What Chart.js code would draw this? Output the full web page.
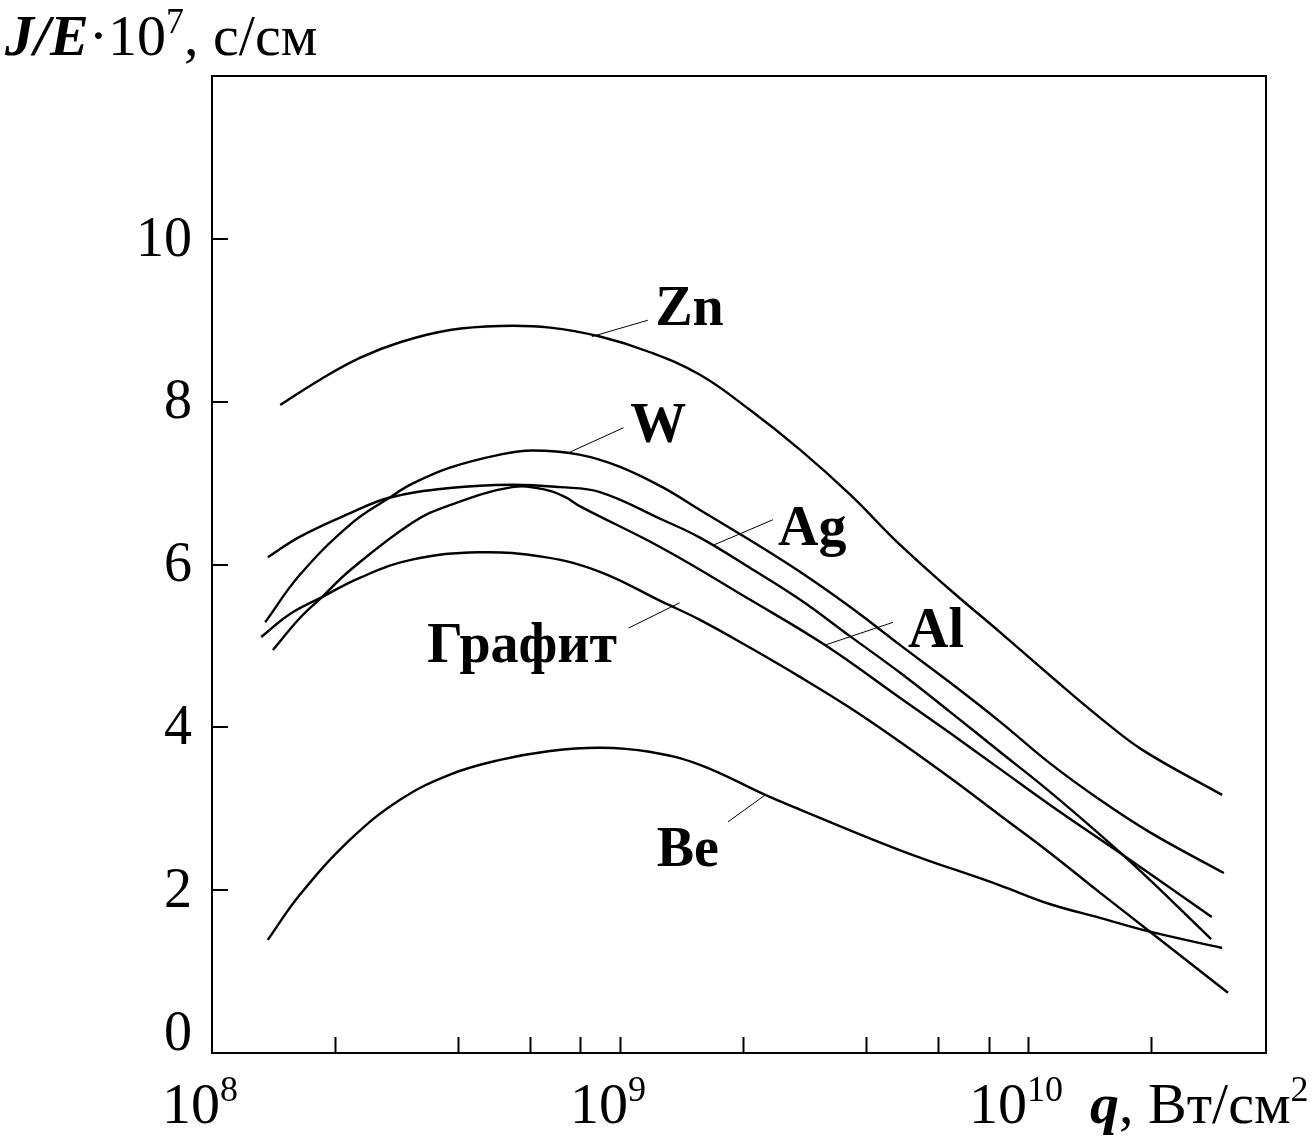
<!DOCTYPE html>
<html><head><meta charset="utf-8">
<script src="https://cdn.jsdelivr.net/npm/chart.js@4/dist/chart.umd.min.js"></script>
<style>html,body{margin:0;padding:0;background:#fff}#wrap{width:1312px;height:1138px;position:relative}</style>
</head><body><div id="wrap"><canvas id="c"></canvas></div>
<script>
// ---- data (q in W/cm^2, J/E·1e7 in s/cm) ----
const qZn=[1.47e8,1.84e8,2.31e8,2.89e8,3.83e8,5.08e8,6.74e8,8.93e8,1.18e9,1.57e9,2.08e9,2.76e9,3.66e9,4.86e9,6.44e9,8.53e9,1.13e10,1.50e10,1.91e10,2.99e10];
const jZn=[7.96,8.27,8.54,8.73,8.88,8.93,8.91,8.80,8.61,8.33,7.90,7.41,6.86,6.24,5.69,5.17,4.64,4.12,3.72,3.17];
const qW=[1.35e8,1.64e8,2.18e8,2.72e8,3.09e8,3.83e8,5.08e8,6.09e8,7.94e8,1.00e9,1.27e9,1.57e9,2.08e9,2.76e9,3.66e9,4.86e9,6.44e9,8.53e9,1.13e10,1.50e10,1.99e10,3.02e10];
const jW=[5.29,5.87,6.49,6.82,6.99,7.19,7.35,7.40,7.35,7.20,6.95,6.67,6.30,5.91,5.48,5.01,4.55,4.07,3.56,3.11,2.71,2.21];
const qAg=[1.37e8,1.64e8,2.18e8,2.72e8,3.83e8,5.44e8,7.13e8,8.93e8,1.27e9,1.57e9,2.08e9,2.76e9,3.66e9,4.86e9,6.44e9,8.53e9,1.13e10,1.78e10,2.81e10];
const jAg=[6.09,6.34,6.63,6.82,6.94,6.98,6.95,6.89,6.55,6.33,5.96,5.57,5.12,4.67,4.19,3.70,3.21,2.35,1.40];
const qAl=[1.41e8,1.64e8,1.86e8,2.18e8,3.09e8,3.83e8,5.44e8,6.55e8,7.33e8,7.94e8,1.27e9,2.08e9,3.18e9,4.86e9,6.44e9,8.53e9,1.13e10,1.78e10,2.82e10];
const jAl=[4.95,5.34,5.60,5.93,6.51,6.73,6.95,6.92,6.83,6.72,6.20,5.57,5.01,4.36,3.93,3.49,3.05,2.37,1.67];
const qGr=[1.32e8,1.55e8,1.86e8,2.31e8,3.09e8,4.51e8,6.55e8,8.93e8,1.27e9,1.57e9,2.08e9,2.76e9,3.66e9,4.86e9,6.44e9,8.53e9,1.13e10,1.50e10,1.99e10,3.09e10];
const jGr=[5.11,5.39,5.60,5.84,6.06,6.15,6.09,5.91,5.54,5.32,4.98,4.62,4.24,3.82,3.38,2.92,2.46,1.97,1.49,0.74];
const qBe=[1.37e8,1.64e8,2.18e8,2.89e8,3.83e8,5.08e8,6.74e8,8.93e8,1.18e9,1.57e9,2.27e9,2.76e9,4.86e9,8.53e9,1.13e10,1.50e10,1.99e10,2.99e10];
const jBe=[1.39,1.94,2.62,3.11,3.42,3.60,3.71,3.75,3.70,3.54,3.17,2.99,2.49,2.06,1.83,1.66,1.49,1.29];

const seriesNames=['Zn','W','Ag','Al','Графит','Be'];
const yTickValues=[0,2,4,6,8,10];
const yTickLabels=['0','2','4','6','8','10'];
const xMinorTicks=[2e8,4e8,6e8,8e8,1e9,2e9,4e9,6e9,8e9,1e10,2e10];
const xLabelValues=[1e8,1e9,1e10];
const xLabelExps=['8','9','10'];

// curve label annotations (data coords): label anchor and leader line
const labelQ=[1.22e9,1.06e9,2.44e9,5.08e9,3.37e8,1.23e9];
const labelJ=[8.94,7.51,6.24,4.99,4.80,2.30];
const leaderQ1=[8.53e8,7.53e8,1.68e9,3.18e9,1.40e9,2.27e9];
const leaderJ1=[8.80,7.38,6.23,5.01,5.53,3.17];
const leaderQ2=[1.17e9,1.02e9,2.37e9,4.67e9,1.05e9,1.84e9];
const leaderJ2=[9.00,7.68,6.55,5.29,5.22,2.84];

const pts=(q,j)=>q.map((v,i)=>({x:v,y:j[i]}));
const FONT='"Liberation Serif","Times New Roman",serif';

function runs(ctx,x,y,list){
  for(const r of list){
    ctx.font=r.f;
    ctx.fillText(r.t,x,y+(r.dy||0));
    x+=ctx.measureText(r.t).width;
  }
  return x;
}
function runsWidth(ctx,list){let w=0;for(const r of list){ctx.font=r.f;w+=ctx.measureText(r.t).width;}return w;}

const decor={
  id:'decor',
  afterDraw(chart){
    const ctx=chart.ctx, a=chart.chartArea, xs=chart.scales.x, ys=chart.scales.y;
    ctx.save();
    ctx.strokeStyle='#000'; ctx.fillStyle='#000';
    // frame
    ctx.lineWidth=2;
    ctx.strokeRect(a.left,a.top,a.right-a.left,a.bottom-a.top);
    // inward ticks
    ctx.beginPath();
    for(const v of yTickValues){ if(v===0) continue; const p=Math.round(ys.getPixelForValue(v)); ctx.moveTo(a.left,p); ctx.lineTo(a.left+16,p);}
    for(const v of xMinorTicks){ const p=Math.round(xs.getPixelForValue(v))+0.5; ctx.moveTo(p,a.bottom); ctx.lineTo(p,a.bottom-16);}
    ctx.stroke();
    // y tick labels
    ctx.font='56px '+FONT; ctx.textAlign='right'; ctx.textBaseline='middle';
    yTickValues.forEach((v,i)=>{ let p=ys.getPixelForValue(v); if(v===0) p-=20; ctx.fillText(yTickLabels[i],a.left-20,p+2);});
    // x tick labels
    ctx.textAlign='left'; ctx.textBaseline='alphabetic';
    xLabelValues.forEach((v,i)=>{
      const list=[{t:'10',f:'58px '+FONT},{t:xLabelExps[i],f:'36px '+FONT,dy:-22}];
      const w=runsWidth(ctx,list);
      const p=xs.getPixelForValue(v);
      runs(ctx,p-12-w/2,1123,list);
    });
    // x axis title
    runs(ctx,1090,1123,[{t:'q',f:'bold italic 58px '+FONT},{t:', Вт/см',f:'58px '+FONT},{t:'2',f:'36px '+FONT,dy:-22}]);
    // y axis title
    runs(ctx,5,55,[{t:'J/E',f:'bold italic 58px '+FONT},{t:'·',f:'58px '+FONT},{t:'10',f:'58px '+FONT},{t:'7',f:'36px '+FONT,dy:-22},{t:', с/см',f:'58px '+FONT}]);
    // leaders
    ctx.lineWidth=1;
    ctx.beginPath();
    for(let i=0;i<seriesNames.length;i++){
      ctx.moveTo(xs.getPixelForValue(leaderQ1[i]),ys.getPixelForValue(leaderJ1[i]));
      ctx.lineTo(xs.getPixelForValue(leaderQ2[i]),ys.getPixelForValue(leaderJ2[i]));
    }
    ctx.stroke();
    // curve labels
    ctx.font='bold 56px '+FONT;
    for(let i=0;i<seriesNames.length;i++){
      ctx.fillText(seriesNames[i],xs.getPixelForValue(labelQ[i]),ys.getPixelForValue(labelJ[i]));
    }
    ctx.restore();
  }
};

const mk=(name,q,j)=>({label:name,data:pts(q,j),borderColor:'#000',borderWidth:2.4,pointRadius:0,fill:false,tension:0.4});

new Chart(document.getElementById('c'),{
  type:'line',
  data:{datasets:[mk('Zn',qZn,jZn),mk('W',qW,jW),mk('Ag',qAg,jAg),mk('Al',qAl,jAl),mk('Графит',qGr,jGr),mk('Be',qBe,jBe)]},
  options:{
    responsive:true,maintainAspectRatio:false,animation:false,events:[],
    layout:{padding:{left:212,top:76,right:46,bottom:85}},
    plugins:{legend:{display:false},tooltip:{enabled:false}},
    scales:{
      x:{type:'logarithmic',min:1e8,max:3.83e10,display:false},
      y:{type:'linear',min:0,max:12,display:false}
    }
  },
  plugins:[decor]
});
</script></body></html>
